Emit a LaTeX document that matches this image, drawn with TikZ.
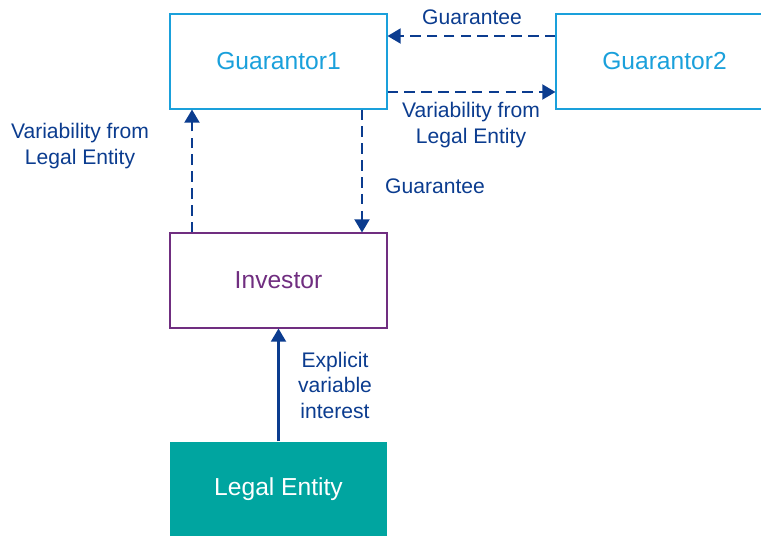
\documentclass[tikz,border=0pt]{standalone}
\usepackage{fontspec}
\setmainfont{Liberation Sans}
\usepackage{tikz}
\usepackage{xcolor}
\usetikzlibrary{positioning, arrows.meta}
\definecolor{guarblue}{HTML}{1AA0DB}
\definecolor{invpurple}{HTML}{702E80}
\definecolor{entityteal}{HTML}{00A5A0}
\definecolor{linkblue}{HTML}{0B3C8F}

\begin{document}
\begin{tikzpicture}[
  box/.style={draw, minimum width=4.34cm, minimum height=1.9cm, align=center, font=\fontsize{14}{16}\selectfont, line width=0.6pt},
  guarBox/.style={box, draw=guarblue, text=guarblue},
  invBox/.style={box, draw=invpurple, text=invpurple},
  entityBox/.style={box, draw=none, fill=entityteal, text=white},
  arr/.style={-{Triangle[width=8.5pt,length=7.5pt]}, line width=1.3pt, linkblue},
  dasharr/.style={arr, dash pattern=on 6pt off 3.6pt},
  lbl/.style={align=center, text=linkblue, font=\fontsize{12}{14.5}\selectfont}
]
\clip (0,0) rectangle (15.22,-10.7);

\node[guarBox] (g1) at (5.57,-1.23) {Guarantor1};
\node[guarBox] (g2) at (13.29,-1.23) {Guarantor2};
\node[invBox] (inv) at (5.57,-5.61) {Investor};
\node[entityBox] (le) at (5.57,-9.79) {Legal Entity};

\draw[dasharr] ([yshift=0.51cm]g2.west) -- ([yshift=0.51cm]g1.east);
\draw[dasharr] ([yshift=-0.61cm]g1.east) -- ([yshift=-0.61cm]g2.west);
\draw[dasharr] ([xshift=-1.73cm]inv.north) -- ([xshift=-1.73cm]g1.south);
\draw[dasharr] ([xshift=1.67cm]g1.south) -- ([xshift=1.67cm]inv.north);
\draw[arr] (le.north) -- (inv.south);

\node[lbl] (t1) at (9.44,-0.34) {Guarantee};
\node[lbl] (t2) at (9.42,-2.5) {Variability from\\Legal Entity};
\node[lbl] (t3) at (1.6,-2.92) {Variability from\\Legal Entity};
\node[lbl] (t4) at (8.7,-3.72) {Guarantee};
\node[lbl] (t5) at (6.7,-7.7) {Explicit\\variable\\interest};

\end{tikzpicture}
\end{document}
